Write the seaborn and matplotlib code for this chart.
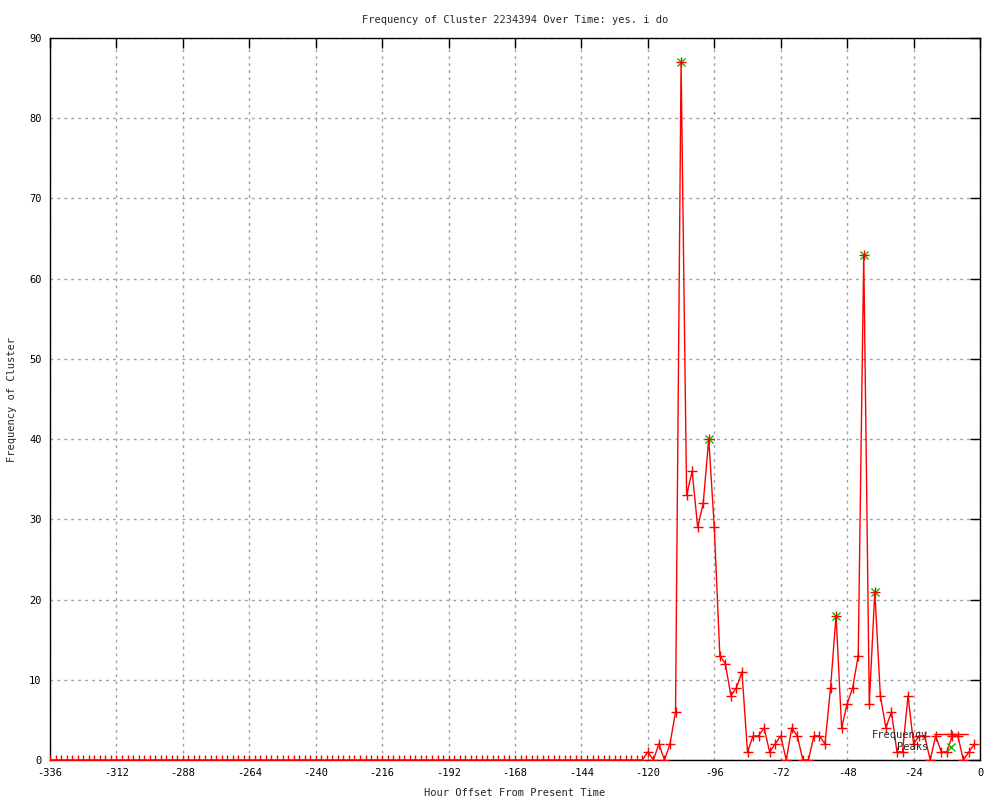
"""Frequency of a cluster over the last two weeks (gnuplot-style line chart)"""

import matplotlib
matplotlib.use('Agg')
import matplotlib.pyplot as plt
import seaborn as sns
import numpy as np

# Hour offsets, one point every 2 hours
hours = list(range(-336, 0, 2))

# Nothing before -120, then the observed counts from -120 to -2
quiet = [0] * 108
recent = [1, 0, 2, 0, 2, 6, 87, 33, 36, 29,
          32, 40, 29, 13, 12, 8, 9, 11, 1, 3,
          3, 4, 1, 2, 3, 0, 4, 3, 0, 0,
          3, 3, 2, 9, 18, 4, 7, 9, 13, 63,
          7, 21, 8, 4, 6, 1, 1, 8, 2, 3,
          3, 0, 3, 1, 1, 3, 3, 0, 1, 2]
frequency = quiet + recent

peak_hours = [-108, -98, -52, -42, -38]
peak_values = [87, 40, 18, 63, 21]

x_ticks = list(range(-336, 1, 24))
y_ticks = list(range(0, 91, 10))

title = 'Frequency of Cluster 2234394 Over Time: yes. i do'

sns.set_style("white")
plt.rcParams['font.family'] = ['DejaVu Sans Mono']
plt.rcParams['font.size'] = 7.5
plt.rcParams['axes.unicode_minus'] = False

fig = plt.figure(figsize=(10, 8), dpi=100)
ax = fig.add_axes([0.05, 0.05, 0.93, 0.9025])

sns.lineplot(x=hours, y=frequency, ax=ax, color='red', linewidth=1,
             marker='+', markersize=7, markeredgewidth=1,
             markeredgecolor='red', label='Frequency', zorder=3)
sns.scatterplot(x=peak_hours, y=peak_values, ax=ax, marker='x',
                color='#00c000', s=34, linewidth=1, label='Peaks', zorder=2)

ax.set_xlim(-336, 0)
ax.set_ylim(0, 90)
ax.set_xticks(x_ticks)
ax.set_yticks(y_ticks)
ax.grid(True, color='#a0a0a0', linestyle=(0, (2, 3)), linewidth=1)
ax.tick_params(direction='in', length=7, width=1, top=True, right=True,
               labelsize=7.5, pad=6, colors='black')
for spine in ax.spines.values():
    spine.set_color('black')
    spine.set_linewidth(1)

ax.set_title(title, fontsize=7.5, pad=11)
ax.set_xlabel('Hour Offset From Present Time', fontsize=7.5, labelpad=7)
ax.set_ylabel('Frequency of Cluster', fontsize=7.5, labelpad=9)

ax.legend(loc='lower right', bbox_to_anchor=(0.992, 0.005), frameon=False,
          markerfirst=False, handlelength=3.3, handletextpad=0.6,
          labelspacing=0.25, fontsize=7.5, borderaxespad=0)

fig.savefig('out.png', dpi=100)
